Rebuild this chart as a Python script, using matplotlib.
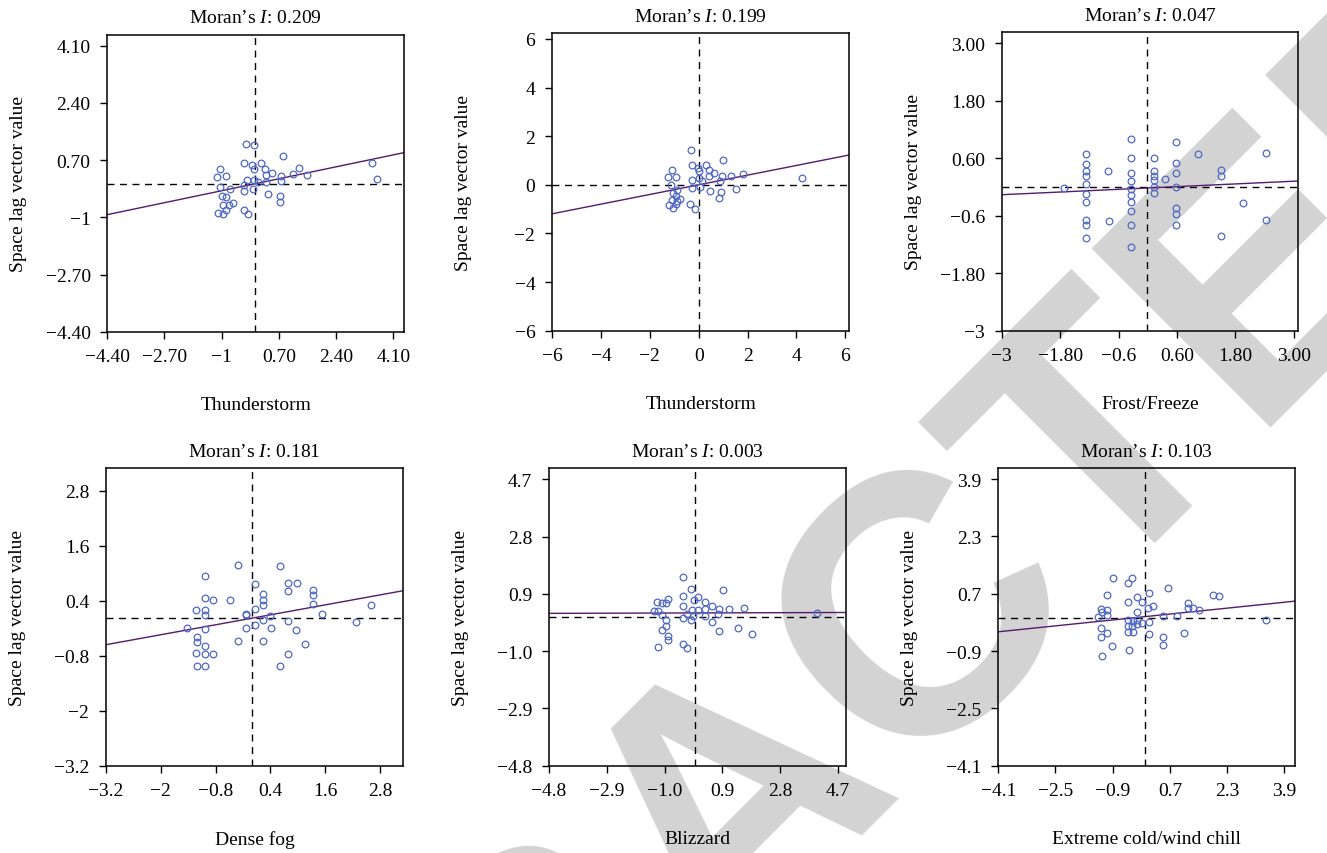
import matplotlib
matplotlib.use("Agg")
import matplotlib.pyplot as plt

plt.rcParams['font.family'] = ['Liberation Serif', 'DejaVu Serif']
plt.rcParams['mathtext.fontset'] = 'custom'
plt.rcParams['mathtext.rm'] = 'Liberation Serif'
plt.rcParams['mathtext.it'] = 'Liberation Serif:italic'

M = '\u2212'

# ---- data ----
xlabels = ["Thunderstorm", "Thunderstorm", "Frost/Freeze",
           "Dense fog", "Blizzard", "Extreme cold/wind chill"]
moran_i = [0.209, 0.199, 0.047, 0.181, 0.003, 0.103]
intercepts = [0.0, 0.0, -0.02, 0.02, 0.27, 0.06]
x_means = [0.0, 0.0, -0.02, 0.0, 0.0, 0.0]
y_means = [0.0, 0.0, 0.0, 0.02, 0.14, 0.01]

tick_values = [
    [-4.4, -2.7, -1.0, 0.7, 2.4, 4.1],
    [-6, -4, -2, 0, 2, 4, 6],
    [-3, -1.8, -0.6, 0.6, 1.8, 3.0],
    [-3.2, -2.0, -0.8, 0.4, 1.6, 2.8],
    [-4.8, -2.9, -1.0, 0.9, 2.8, 4.7],
    [-4.1, -2.5, -0.9, 0.7, 2.3, 3.9],
]
tick_labels = [
    [M + "4.40", M + "2.70", M + "1", "0.70", "2.40", "4.10"],
    [M + "6", M + "4", M + "2", "0", "2", "4", "6"],
    [M + "3", M + "1.80", M + "0.6", "0.60", "1.80", "3.00"],
    [M + "3.2", M + "2", M + "0.8", "0.4", "1.6", "2.8"],
    [M + "4.8", M + "2.9", M + "1.0", "0.9", "2.8", "4.7"],
    [M + "4.1", M + "2.5", M + "0.9", "0.7", "2.3", "3.9"],
]
xlims = [(-4.4, 4.42), (-6, 6.16), (-3, 3.09), (-3.2, 3.31), (-4.8, 4.96), (-4.1, 4.2)]
ylims = [(-4.4, 4.43), (-6, 6.23), (-3, 3.23), (-3.19, 3.29), (-4.8, 5.07), (-4.1, 4.2)]

thunder1_x = [-0.29, -0.04, 0.83, -0.34, -0.09, 0.16, -0.03, 0.30, 0.50, 0.31, 0.75, 1.12,
              1.31, 1.53, 3.46, 3.63, -1.05, -1.14, -0.88, -1.05, -0.76, -0.25, -0.03, 0.08,
              0.31, 0.75, -0.33, -0.33, -0.06, 0.37, 0.72, 0.72, -0.98, -0.88, -0.96, -0.79,
              -0.65, -0.88, -1.10, -0.95, -0.35, -0.23]
thunder1_y = [1.18, 1.15, 0.83, 0.63, 0.56, 0.62, 0.44, 0.45, 0.32, 0.25, 0.24, 0.30,
              0.46, 0.27, 0.62, 0.15, 0.45, 0.19, 0.23, -0.09, -0.16, 0.12, 0.12, 0.05,
              0.06, 0.07, -0.04, -0.22, -0.17, -0.30, -0.37, -0.55, -0.38, -0.41, -0.62, -0.64,
              -0.57, -0.77, -0.87, -0.91, -0.77, -0.90]

thunder2_x = [-0.31, -0.29, 0.29, 1.01, -0.01, 0.00, 0.41, 0.61, 0.41, 0.94, 1.31, 1.81,
              4.21, -1.10, -1.27, -0.94, -1.12, -0.26, 0.00, 0.15, 0.89, -0.29, 0.04, 0.45,
              0.90, 1.54, 0.85, -0.90, -1.04, -0.94, -0.76, -1.08, -0.89, -1.20, -0.93, -1.04,
              -0.37, -0.16]
thunder2_y = [1.44, 0.80, 0.82, 1.03, 0.70, 0.58, 0.60, 0.48, 0.37, 0.37, 0.38, 0.45,
              0.27, 0.59, 0.33, 0.33, 0.00, 0.19, 0.26, 0.15, 0.14, -0.15, -0.11, -0.27,
              -0.30, -0.18, -0.55, -0.22, -0.32, -0.45, -0.59, -0.62, -0.66, -0.82, -0.81, -0.95,
              -0.80, -1.00]

frost_x = [-1.27] * 10 + [-1.72, -0.81, -0.80] + [-0.35] * 10 + [0.12] * 6 + [0.35] + \
          [0.58] * 7 + [1.04, 1.50, 1.50, 1.50, 1.96, 2.42, 2.42]
frost_y = [0.68, 0.49, 0.33, 0.22, 0.06, -0.15, -0.32, -0.69, -0.79, -1.07,
           -0.02, 0.33, -0.70,
           1.00, 0.60, 0.30, 0.13, -0.04, -0.16, -0.32, -0.51, -0.79, -1.25,
           0.60, 0.33, 0.24, 0.15, 0.01, -0.13,
           0.16,
           0.93, 0.51, 0.30, -0.01, -0.43, -0.56, -0.79,
           0.68, 0.36, 0.22, -1.02, -0.33, 0.71, -0.68]

fog_x = [-0.31, 0.60, -1.03, 0.06, 0.79, 0.98, 0.79, 1.33, 1.33, 0.23, 0.24, 0.23,
         1.33, 2.61, -1.04, -0.85, -0.48, -1.22, -1.04, -1.04, -0.14, -0.14, 0.06, 0.40,
         1.52, 0.23, 0.79, 2.27, -1.42, -1.04, -0.13, 0.06, 0.42, 0.95, -1.21, -1.21,
         -1.03, -0.31, 0.23, 1.16, -1.22, -1.03, -0.86, 0.79, -1.21, -1.03, 0.61]
fog_y = [1.17, 1.16, 0.93, 0.76, 0.79, 0.79, 0.62, 0.64, 0.52, 0.54, 0.41, 0.30,
         0.33, 0.30, 0.47, 0.41, 0.41, 0.20, 0.20, 0.08, 0.12, 0.08, 0.22, 0.06,
         0.11, -0.01, -0.04, -0.07, -0.19, -0.21, -0.20, -0.14, -0.20, -0.24, -0.39, -0.50,
         -0.59, -0.48, -0.48, -0.54, -0.75, -0.77, -0.77, -0.77, -1.03, -1.03, -1.03]

blizzard_x = [-0.40, -0.14, 0.92, -0.40, 0.10, -0.88, -0.05, -1.25, -1.09, -0.97, 0.33, 0.56,
              -0.40, -1.34, -1.21, -0.10, 0.10, 0.33, 0.79, 1.13, 1.61, 4.01, -1.10, -0.28,
              -0.08, 0.34, 0.77, -0.40, -0.14, -0.97, -0.97, 0.55, -1.10, 0.80, 1.40, 1.86,
              -0.88, -0.88, -0.40, -0.26, -1.23]
blizzard_y = [1.46, 1.07, 1.04, 0.84, 0.81, 0.73, 0.69, 0.64, 0.59, 0.61, 0.63, 0.50,
              0.50, 0.34, 0.34, 0.37, 0.37, 0.41, 0.39, 0.41, 0.44, 0.28, 0.20, 0.23,
              0.18, 0.17, 0.22, 0.09, 0.03, 0.02, -0.16, -0.03, -0.30, -0.33, -0.24, -0.43,
              -0.51, -0.62, -0.75, -0.90, -0.85]

cold_x = [-0.90, -0.36, -0.46, 0.66, -1.06, -0.21, 0.11, 1.92, 2.07, -0.46, -0.07, 0.24,
          0.09, 1.22, 1.20, 1.36, 1.52, -1.22, -1.07, -1.20, -1.06, -1.31, -0.21, 0.50,
          0.91, -0.46, -0.34, -0.23, -0.08, 0.11, -0.46, -0.35, -0.23, 3.38, -1.22, -0.46,
          -0.34, -1.22, -1.06, 0.11, 0.50, 0.50, 1.10, -0.91, -0.45, -1.21]
cold_y = [1.13, 1.14, 1.00, 0.87, 0.66, 0.61, 0.71, 0.66, 0.63, 0.47, 0.47, 0.37,
          0.31, 0.45, 0.29, 0.31, 0.24, 0.28, 0.24, 0.18, 0.10, 0.06, 0.18, 0.07,
          0.09, -0.03, -0.07, -0.04, -0.13, -0.09, -0.20, -0.21, -0.15, -0.03, -0.25, -0.37,
          -0.37, -0.51, -0.41, -0.43, -0.51, -0.73, -0.41, -0.76, -0.87, -1.04]

xs = [thunder1_x, thunder2_x, frost_x, fog_x, blizzard_x, cold_x]
ys = [thunder1_y, thunder2_y, frost_y, fog_y, blizzard_y, cold_y]

# axes boxes in pixels: left, top, right, bottom
boxes = [(107.3, 35.7, 404, 332.7), (552, 34.3, 849.3, 331.7), (1001.7, 33.3, 1298.3, 331.7),
         (106, 469.3, 403.3, 766.7), (549, 469.3, 846, 766.7), (998.3, 469.3, 1295, 766.7)]

W, H = 1327, 854
fig = plt.figure(figsize=(W / 100, H / 100), dpi=100)

# retraction stamp behind the panels
fig.text(738 / W, 1 - 800 / H, "RETRACTED", fontsize=265, fontweight='bold',
         family='Liberation Sans', color='#d3d3d3', rotation=45,
         rotation_mode='anchor', ha='center', va='center', zorder=-5)

for k in range(6):
    l, t, r, b = boxes[k]
    ax = fig.add_axes([l / W, 1 - b / H, (r - l) / W, (b - t) / H])
    ax.set_facecolor('none')
    ax.plot(xs[k], ys[k], 'o', mfc='none', mec='#4f68c4', ms=4.8, mew=0.9, zorder=3)
    ax.axline((0, intercepts[k]), slope=moran_i[k], color='#561a6c', lw=1.0, zorder=2)
    ax.axvline(x_means[k], color='black', ls=(0, (5, 4)), lw=1.0, zorder=1)
    ax.axhline(y_means[k], color='black', ls=(0, (5, 4)), lw=1.0, zorder=1)
    ax.set_xlim(*xlims[k])
    ax.set_ylim(*ylims[k])
    ax.set_xticks(tick_values[k])
    ax.set_xticklabels(tick_labels[k])
    ax.set_yticks(tick_values[k])
    ax.set_yticklabels(tick_labels[k])
    ax.tick_params(length=5, width=1, pad=7, labelsize=14, direction='out')
    for s in ax.spines.values():
        s.set_linewidth(1.1)
    ax.set_title("Moran\u2019s $I$: %.3f" % moran_i[k], fontsize=14, pad=9)
    ax.set_xlabel(xlabels[k], fontsize=14)
    ax.set_ylabel("Space lag vector value", fontsize=14)
    ax.xaxis.set_label_coords(0.5, -0.215)
    ax.yaxis.set_label_coords(-0.27, 0.5)

fig.savefig("out.png", dpi=100)
